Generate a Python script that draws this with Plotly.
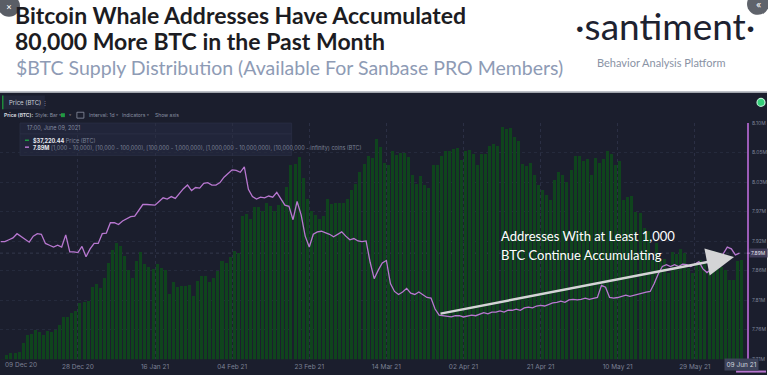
import plotly.graph_objects as go
import pandas as pd

# ---------------- data ----------------
start_date = "2020-12-09"
n_days = 183

price_usd = [17560, 18420, 18670, 18730, 18870, 20770, 22330, 22590, 23370, 22920,
             22330, 23120, 22920, 23370, 24290, 25970, 25860, 26700, 27030, 28650,
             28850, 28990, 31840, 32510, 31590, 33680, 36680, 39220, 40590, 39950,
             38110, 35310, 33680, 37010, 38890, 36480, 35900, 35370, 36350, 35640,
             35170, 30470, 32900, 31840, 32040, 32120, 32180, 29970, 33020, 34130,
             34130, 32760, 33740, 35110, 37070, 36680, 37850, 39030, 38640, 46070,
             46460, 45290, 47830, 47830, 47050, 48620, 48030, 47050, 48220, 49200,
             51750, 56050, 56250, 57620, 53510, 49400, 47050, 46270, 45290, 46070,
             49400, 48420, 48620, 48620, 48620, 49400, 51160, 52330, 54680, 56250,
             57810, 57420, 61340, 59770, 56440, 56050, 58990, 58010, 58460, 58460,
             57680, 54100, 52330, 53900, 52140, 51550, 56050, 56050, 57810, 58990,
             58990, 59240, 59520, 57030, 58850, 59130, 58340, 56050, 58340, 58340,
             59970, 60300, 59970, 63690, 63350, 63550, 61730, 60810, 56390, 55860,
             56500, 54100, 52140, 51160, 50180, 49200, 53120, 54680, 54100, 52730,
             55070, 57810, 57810, 56890, 57360, 54100, 57480, 56500, 57360, 58850,
             58340, 56050, 56890, 49200, 49790, 49990, 46860, 46660, 43530, 42940,
             37270, 40590, 37270, 37460, 34720, 38830, 38440, 39420, 38640, 35700,
             34720, 36290, 37130, 36870, 34920, 39090, 35500, 35900, 35170, 33210,
             33210, 36930, 37220]

whale_supply_m = [7.905, 7.905, 7.908, 7.911, 7.918, 7.913, 7.908, 7.904, 7.914, 7.918,
                  7.917, 7.902, 7.899, 7.896, 7.899, 7.896, 7.916, 7.888, 7.888, 7.887,
                  7.897, 7.880, 7.893, 7.902, 7.902, 7.918, 7.919, 7.936, 7.936, 7.933,
                  7.939, 7.943, 7.946, 7.947, 7.956, 7.966, 7.966, 7.966, 7.965, 7.971,
                  7.977, 7.975, 7.979, 7.976, 7.985, 7.992, 7.998, 7.989, 7.994, 7.993,
                  8.001, 8.002, 7.998, 7.998, 8.002, 8.011, 8.017, 8.023, 8.022, 8.019,
                  8.028, 7.991, 7.979, 7.975, 7.978, 7.977, 7.980, 7.978, 7.986, 7.975,
                  7.965, 7.963, 7.941, 7.971, 7.949, 7.914, 7.896, 7.917, 7.921, 7.922,
                  7.920, 7.917, 7.913, 7.917, 7.921, 7.914, 7.908, 7.910, 7.906, 7.905,
                  7.906, 7.871, 7.844, 7.858, 7.870, 7.874, 7.836, 7.823, 7.818, 7.822,
                  7.828, 7.820, 7.818, 7.822, 7.817, 7.813, 7.812, 7.794, 7.784, 7.783,
                  7.783, 7.781, 7.783, 7.783, 7.781, 7.783, 7.784, 7.783, 7.786, 7.788,
                  7.786, 7.789, 7.789, 7.791, 7.789, 7.792, 7.792, 7.794, 7.792, 7.796,
                  7.797, 7.796, 7.799, 7.800, 7.799, 7.802, 7.804, 7.805, 7.807, 7.805,
                  7.809, 7.810, 7.809, 7.810, 7.812, 7.810, 7.812, 7.813, 7.833, 7.830,
                  7.813, 7.812, 7.813, 7.815, 7.817, 7.815, 7.817, 7.818, 7.820, 7.822,
                  7.823, 7.836, 7.852, 7.864, 7.867, 7.864, 7.867, 7.864, 7.868, 7.867,
                  7.864, 7.868, 7.872, 7.860, 7.854, 7.859, 7.864, 7.870, 7.885, 7.896,
                  7.893, 7.883, 7.886]

x_tick_dates = ["2020-12-28", "2021-01-16", "2021-02-04", "2021-02-23", "2021-03-14",
                "2021-04-02", "2021-04-21", "2021-05-10", "2021-05-29"]
x_tick_labels = ["28 Dec 20", "16 Jan 21", "04 Feb 21", "23 Feb 21", "14 Mar 21",
                 "02 Apr 21", "21 Apr 21", "10 May 21", "29 May 21"]
first_date_label = "09 Dec 20"
last_date_label = "09 Jun 21"

y2_tick_vals = [8.10, 8.0514, 8.0028, 7.9543, 7.9057, 7.8571, 7.8086, 7.7600, 7.7114]
y2_tick_labels = ["8.10M", "8.05M", "8.03M", "7.97M", "7.92M", "7.86M", "7.81M", "7.76M", "7.71M"]

# ---------------- helpers ----------------
W, H = 768, 378


def px(x):
    return x / W


def py(y):
    return 1 - y / H


dates = pd.date_range(start_date, periods=n_days, freq="D")
bar_dates = dates + pd.Timedelta(hours=12)

BG = "#1b1e2d"
GREEN = "#0f441d"
PINK = "#b877d0"
UI = "Inter, Lato, sans-serif"

fig = go.Figure()
fig.add_trace(go.Bar(x=bar_dates, y=price_usd, marker=dict(color=GREEN, line=dict(width=0)),
                     width=0.74 * 86400000, name="Price (BTC)", yaxis="y"))
fig.add_trace(go.Scatter(x=dates, y=whale_supply_m, mode="lines",
                         line=dict(color=PINK, width=1.3), name="Whale supply", yaxis="y2"))

plot_top, plot_bot = 122, 362
dom = [py(plot_bot), py(plot_top)]

fig.update_layout(
    width=W, height=H,
    margin=dict(l=0, r=0, t=0, b=0),
    paper_bgcolor="white", plot_bgcolor="rgba(0,0,0,0)",
    showlegend=False, bargap=0,
    xaxis=dict(domain=[0, px(748)], type="date",
               range=["2020-12-08 19:17", "2021-06-10 20:40"],
               tickvals=x_tick_dates, ticktext=x_tick_labels,
               tickfont=dict(family=UI, size=6.5, color="#7b8195"),
               showgrid=True, gridcolor="#2b2f44", griddash="dot", gridwidth=1,
               zeroline=False, showline=False, ticks="", ticklabelstandoff=2),
    yaxis=dict(domain=dom, range=[17500, 64468], visible=False, showgrid=False),
    yaxis2=dict(overlaying="y", side="right", anchor="x", range=[7.7114, 8.10],
                tickvals=y2_tick_vals, ticktext=y2_tick_labels,
                tickfont=dict(family=UI, size=5, color="#7d8397"),
                showgrid=True, gridcolor="#252a3c", griddash="dot",
                showline=True, linecolor="#9c5cb8", linewidth=2,
                zeroline=False, ticks="", ticklabelstandoff=2),
)

shapes = []
# dark panel
shapes.append(dict(type="rect", xref="paper", yref="paper", x0=0, x1=1, y0=0, y1=py(91),
                   fillcolor=BG, line=dict(width=0), layer="below"))
shapes.append(dict(type="line", xref="paper", yref="paper", x0=0, x1=1, y0=py(90.5), y1=py(90.5),
                   line=dict(color="#a9adb6", width=1.5), layer="below"))
# price label box
shapes.append(dict(type="rect", xref="paper", yref="paper", x0=px(2), x1=px(45), y0=py(108), y1=py(94),
                   fillcolor="#23273a", line=dict(width=0), layer="below"))
shapes.append(dict(type="rect", xref="paper", yref="paper", x0=px(2), x1=px(3.5), y0=py(108), y1=py(94),
                   fillcolor="#1f8a3a", line=dict(width=0), layer="below"))
# toolbar icons
shapes.append(dict(type="rect", xref="paper", yref="paper", x0=px(61), x1=px(65), y0=py(116), y1=py(112),
                   fillcolor="#1f9a42", line=dict(width=0)))
shapes.append(dict(type="rect", xref="paper", yref="paper", x0=px(77), x1=px(84), y0=py(117), y1=py(111),
                   fillcolor="rgba(0,0,0,0)", line=dict(color="#8a90a2", width=0.8)))
# tooltip box
shapes.append(dict(type="rect", xref="paper", yref="paper", x0=px(20), x1=px(292), y0=py(155), y1=py(122),
                   fillcolor="#21253a", line=dict(color="#2a2e42", width=0.8), layer="below"))
shapes.append(dict(type="line", xref="paper", yref="paper", x0=px(20), x1=px(292), y0=py(133), y1=py(133),
                   line=dict(color="#2d3147", width=0.8), layer="below"))
shapes.append(dict(type="line", xref="paper", yref="paper", x0=px(25), x1=px(29), y0=py(139.5), y1=py(139.5),
                   line=dict(color="#1f9a42", width=1.5)))
shapes.append(dict(type="line", xref="paper", yref="paper", x0=px(25), x1=px(29), y0=py(146.5), y1=py(146.5),
                   line=dict(color=PINK, width=1.5)))
# current value dotted line and marker
shapes.append(dict(type="line", xref="x domain", yref="y2", x0=0, x1=1,
                   y0=whale_supply_m[-1], y1=whale_supply_m[-1],
                   line=dict(color="#34384d", width=1, dash="dot"), layer="below"))
shapes.append(dict(type="line", xref="paper", yref="y2", x0=px(748), x1=px(764),
                   y0=whale_supply_m[-1], y1=whale_supply_m[-1],
                   line=dict(color=PINK, width=1.5)))
# navigator stub
shapes.append(dict(type="line", xref="paper", yref="paper", x0=px(737), x1=px(767), y0=py(374.5), y1=py(374.5),
                   line=dict(color=PINK, width=2)))
# green status dot
shapes.append(dict(type="circle", xref="paper", yref="paper", x0=px(758), x1=px(766), y0=py(105), y1=py(97),
                   fillcolor="#35d07a", line=dict(color="#b7ecd0", width=1.2)))
# corner buttons
shapes.append(dict(type="circle", xref="paper", yref="paper", x0=px(-2), x1=px(20), y0=py(14), y1=py(-8),
                   fillcolor="#5a5e66", line=dict(width=0)))
shapes.append(dict(type="circle", xref="paper", yref="paper", x0=px(748), x1=px(770), y0=py(12), y1=py(-10),
                   fillcolor="#5f636b", line=dict(width=0)))
fig.update_layout(shapes=shapes)

ann = []


def text(x, y, s, size, color, family=UI, xanchor="left", yanchor="middle", **kw):
    ann.append(dict(x=px(x), y=py(y), xref="paper", yref="paper", text=s, showarrow=False,
                    xanchor=xanchor, yanchor=yanchor,
                    font=dict(size=size, color=color, family=family), **kw))


# header
text(14, 12, "<b>Bitcoin Whale Addresses Have Accumulated</b>", 23, "#1c1c22", family="Lato", borderpad=0)
text(14, 38.5, "<b>80,000 More BTC in the Past Month</b>", 23, "#1c1c22", family="Lato", borderpad=0)
text(14, 66, "$BTC Supply Distribution (Available For Sanbase PRO Members)", 19.5, "#8e9bb5", family="Lato")
text(666, 23, "·santiment·", 37, "#1d2230", family="Lato", xanchor="center")
text(662, 60, "Behavior Analysis Platform", 11, "#8a93a5", family="Lato", xanchor="center")
text(9, 4, "×", 9, "#ffffff", xanchor="center")
text(759, 2, "«", 9, "#ffffff", xanchor="center")

# chart toolbar
text(7, 101, "Price (BTC)", 6, "#c9cdd8")
text(40, 101, "⋮", 6, "#8a90a2")
text(2, 114, "<b>Price (BTC):</b>", 5, "#d0d4de")
text(33, 114, "Style: Bar ˅", 5, "#8a90a2")
text(67, 114, "˅", 5, "#8a90a2")
text(87, 114, "Interval: 1d ˅", 5, "#8a90a2")
text(120, 114, "Indicators ˅", 5, "#8a90a2")
text(153, 114, "Show axis", 5, "#8a90a2")

# tooltip
text(25, 127.5, "17:00, June 09, 2021", 5.5, "#858ba0")
text(31, 139.5, "<b>$37,220.44</b> <span style='color:#7c8296'>Price (BTC)</span>", 5.5, "#e6e8ee")
text(31, 146.5, "<b>7.89M</b> <span style='color:#7c8296'>[1,000 - 10,000), [10,000 - 100,000), "
     "[100,000 - 1,000,000), [1,000,000 - 10,000,000), [10,000,000 - infinity) coins (BTC)</span>",
     5.5, "#e6e8ee")

# date labels at the ends
ann.append(dict(x=dates[0], y=py(367.5), xref="x", yref="paper", text=first_date_label, showarrow=False,
                xanchor="left", yanchor="middle", xshift=2,
                font=dict(size=6.5, color="#7b8195", family=UI)))
ann.append(dict(x=dates[-1], y=py(367.5), xref="x", yref="paper", text=last_date_label, showarrow=False,
                xanchor="center", yanchor="middle", xshift=2, bgcolor="#3c4259", borderpad=1.5,
                font=dict(size=6.5, color="#cfd3de", family=UI)))
# current value label
ann.append(dict(x=px(750), y=whale_supply_m[-1], xref="paper", yref="y2", text="7.89M", showarrow=False,
                xanchor="left", yanchor="middle", bgcolor="#3f3b57", borderpad=1,
                font=dict(size=5, color="#e4e4ee", family=UI)))

# arrow and caption
ann.append(dict(x=px(735), y=py(258), xref="paper", yref="paper", ax=-295, ay=57,
                axref="pixel", ayref="pixel", text="", showarrow=True,
                arrowhead=2, arrowsize=2.2, arrowwidth=2.5, arrowcolor="#d4d4d6", standoff=0))
text(500, 237, "Addresses With at Least 1,000", 13, "#ffffff", family="Lato")
text(500, 256, "BTC Continue Accumulating", 13, "#ffffff", family="Lato")

fig.update_layout(annotations=ann)

fig.write_html("out.html", config={"displayModeBar": False},
               post_script="document.body.style.margin='0';document.body.style.overflow='hidden';")
